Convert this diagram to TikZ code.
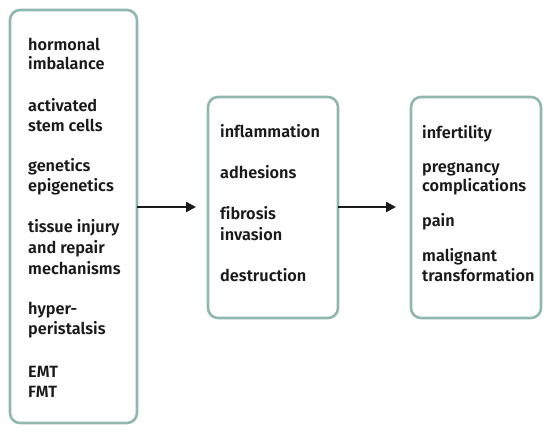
\documentclass[tikz,border=0pt]{standalone}
\usepackage{fontspec}
\setmainfont{Fira Sans}[UprightFont=* SemiBold, BoldFont=* Bold, Ligatures={NoCommon}]
\usetikzlibrary{arrows.meta}
\definecolor{boxc}{HTML}{8FB8B0}
\definecolor{txt}{HTML}{1A1A1A}
\tikzset{
  panel/.style={draw=boxc, line width=2.6pt, rounded corners=10pt, fill=white},
  lbl/.style={anchor=base west, inner sep=0pt, text=txt, font=\fontsize{16.3}{20}\selectfont},
  conn/.style={line width=2.4pt, -{Triangle[length=10pt,width=10pt]}, draw=txt}
}
\begin{document}
\begin{tikzpicture}[x=1pt,y=-1pt]
\useasboundingbox (0,0) rectangle (550,433);
\draw[panel] (10,10) rectangle (137,423);
\draw[panel] (208,97) rectangle (338,318);
\draw[panel] (411,97) rectangle (541,318);
\coordinate (b1e) at (137,207);
\coordinate (b2w) at (196,207);
\coordinate (b2e) at (338,207);
\coordinate (b3w) at (396,207);
% box 1
\node[lbl] (t1) at (28,51) {hormonal};
\node[lbl] (t2) at (28,70) {imbalance};
\node[lbl] (t3) at (28,112) {activated};
\node[lbl] (t4) at (28,132) {stem cells};
\node[lbl] (t5) at (28,172) {genetics};
\node[lbl] (t6) at (28,192) {epigenetics};
\node[lbl] (t7) at (28,233) {tissue injury};
\node[lbl] (t8) at (28,254) {and repair};
\node[lbl] (t9) at (28,275) {mechanisms};
\node[lbl] (t10) at (28,315) {hyper-};
\node[lbl] (t11) at (28,335) {peristalsis};
\node[lbl] (t12) at (28,378) {EMT};
\node[lbl] (t13) at (28,398) {FMT};
% box 2
\node[lbl] (m1) at (220,138) {inflammation};
\node[lbl] (m2) at (220,179) {adhesions};
\node[lbl] (m3) at (220,220) {fibrosis};
\node[lbl] (m4) at (220,241) {invasion};
\node[lbl] (m5) at (220,282) {destruction};
% box 3
\node[lbl] (r1) at (422,139) {infertility};
\node[lbl] (r2) at (422,173) {pregnancy};
\node[lbl] (r3) at (422,192) {complications};
\node[lbl] (r4) at (422,227) {pain};
\node[lbl] (r5) at (422,262) {malignant};
\node[lbl] (r6) at (422,282) {transformation};
% arrows
\draw[conn] (b1e) -- (b2w);
\draw[conn] (b2e) -- (b3w);
\end{tikzpicture}
\end{document}
